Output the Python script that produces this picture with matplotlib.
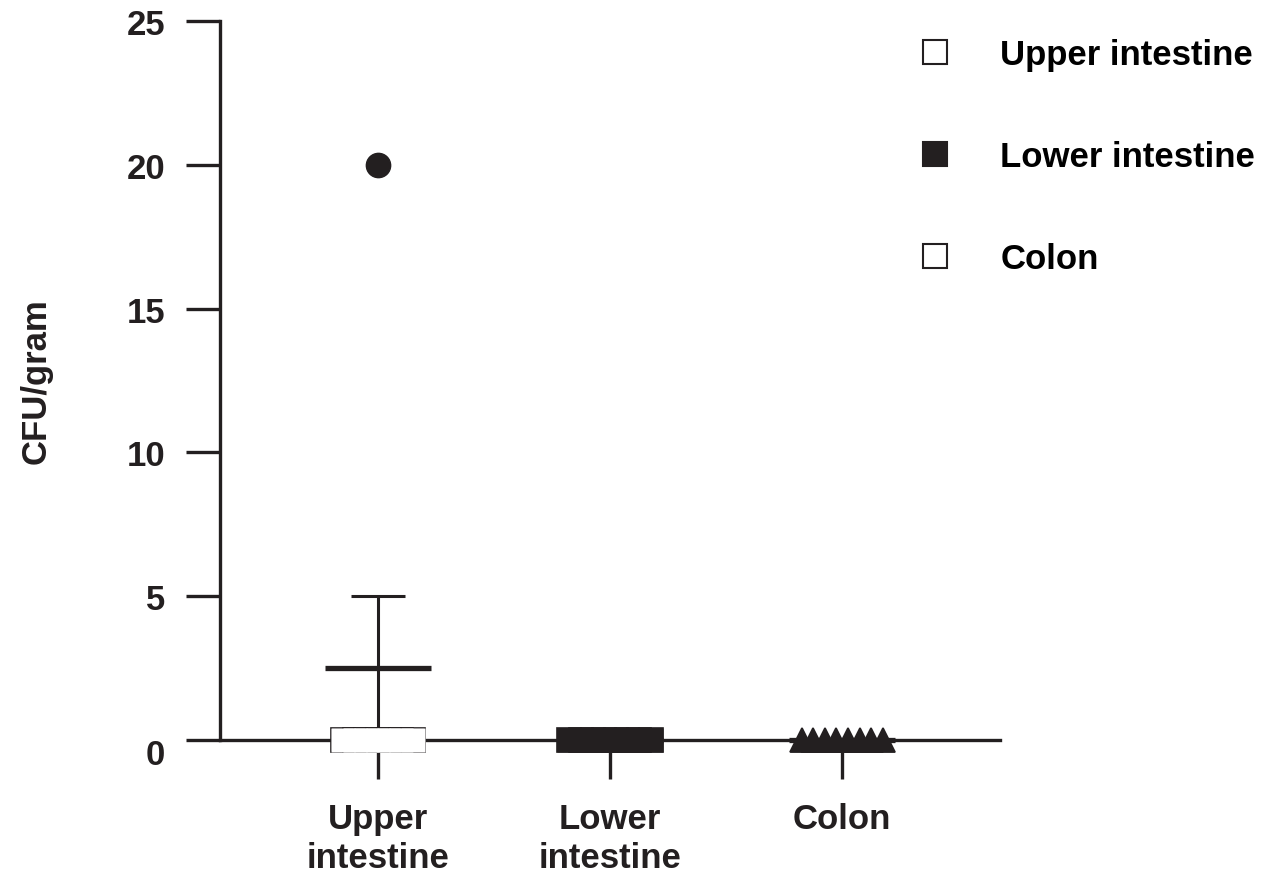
import matplotlib
matplotlib.use("Agg")
import matplotlib.pyplot as plt
import matplotlib.transforms as mtransforms
from matplotlib.lines import Line2D
import numpy as np

plt.rcParams["font.family"] = ["Liberation Sans", "DejaVu Sans"]
plt.rcParams["font.weight"] = "bold"

INK = "#231f20"
FS = 25

# CFU counts per animal, one list per gut segment
groups = ["Upper intestine", "Lower intestine", "Colon"]
tick_labels = ["Upper\nintestine", "Lower\nintestine", "Colon"]
upper_cfu = [0, 0, 0, 0, 0, 0, 0, 20]
lower_cfu = [0, 0, 0, 0, 0, 0, 0, 0]
colon_cfu = [0, 0, 0, 0, 0, 0, 0, 0]
y_ticks = [0, 5, 10, 15, 20, 25]

# marker style per segment: (marker, face)
styles = [("s", "white"), ("s", INK), ("^", INK)]
SPREAD = 0.05   # horizontal step between tied points (data units)
MEAN_HW = 0.228
CAP_HW = 0.116


def column_offsets(vals):
    # spread points sharing the same value side by side, like a column scatter
    vals = np.asarray(vals, dtype=float)
    off = np.zeros(len(vals))
    for v in np.unique(vals):
        idx = np.where(vals == v)[0]
        off[idx] = (np.arange(len(idx)) - (len(idx) - 1) / 2) * SPREAD
    return off


fig = plt.figure(figsize=(12.62, 8.79), dpi=100)
ax = fig.add_axes([220 / 1262, 138 / 879, 780 / 1262, 719 / 879])

for i, vals in enumerate([upper_cfu, lower_cfu, colon_cfu]):
    vals = np.asarray(vals, dtype=float)
    mean = vals.mean()
    sem = vals.std(ddof=1) / np.sqrt(len(vals))

    # mean +/- SEM
    ax.vlines(i, mean - sem, mean + sem, color=INK, lw=2.2, zorder=2, clip_on=False)
    ax.hlines([mean - sem, mean + sem], i - CAP_HW, i + CAP_HW, color=INK, lw=2.2,
              zorder=2, clip_on=False)
    ax.hlines(mean, i - MEAN_HW, i + MEAN_HW, color=INK, lw=3.8, zorder=2, clip_on=False)

    marker, face = styles[i]
    xs = i + column_offsets(vals)
    base = vals == 0
    # outlined pass, then an edgeless pass on top so tied points merge into one block
    ax.plot(xs[base], vals[base], ls="none", marker=marker, ms=17.5, mfc=face, mec=INK,
            mew=1.2, zorder=4, clip_on=False)
    ax.plot(xs[base], vals[base], ls="none", marker=marker, ms=17.5, mfc=face, mec="none",
            zorder=5, clip_on=False)
    # non-zero counts drawn as filled dots
    if (~base).any():
        ax.plot(xs[~base], vals[~base], ls="none", marker="o", ms=17.5, mfc=INK, mec=INK,
                zorder=4, clip_on=False)

ax.set_xlim(-0.68, 2.68)
ax.set_ylim(0, 25)
ax.set_yticks(y_ticks)
ax.set_xticks(range(len(groups)))
ax.set_xticklabels(tick_labels, fontsize=FS, fontweight="bold", linespacing=1.2)
ax.set_yticklabels([str(t) for t in y_ticks], fontsize=FS, fontweight="bold")

for side in ["top", "right"]:
    ax.spines[side].set_visible(False)
for side in ["left", "bottom"]:
    ax.spines[side].set_linewidth(2.4)
    ax.spines[side].set_color(INK)
    ax.spines[side].set_zorder(1)

ax.tick_params(axis="y", length=24.5, width=2.4, pad=15, colors=INK)
ax.tick_params(axis="x", length=28, width=2.4, pad=17, colors=INK)

# drop the "0" label a little so it clears the x axis line
zero_lbl = ax.get_yticklabels()[0]
zero_lbl.set_transform(zero_lbl.get_transform()
                       + mtransforms.ScaledTranslation(0, -0.11, fig.dpi_scale_trans))

ax.set_ylabel("CFU/gram", fontsize=FS, fontweight="bold", color=INK)
ax.yaxis.set_label_coords(-0.215, 0.5)

handles = [
    Line2D([], [], ls="none", marker="s", ms=17, mfc="white", mec=INK, mew=1.5),
    Line2D([], [], ls="none", marker="s", ms=17, mfc=INK, mec=INK, mew=1.5),
    Line2D([], [], ls="none", marker="s", ms=17, mfc="white", mec=INK, mew=1.5),
]
fig.legend(handles, groups, loc="upper left", bbox_to_anchor=(900 / 1262, 1 - 39 / 879),
           frameon=False, labelspacing=1.99, handletextpad=0.89,
           borderpad=0, borderaxespad=0, handlelength=2.0,
           prop={"weight": "bold", "size": FS})

fig.savefig("out.png", dpi=100)
